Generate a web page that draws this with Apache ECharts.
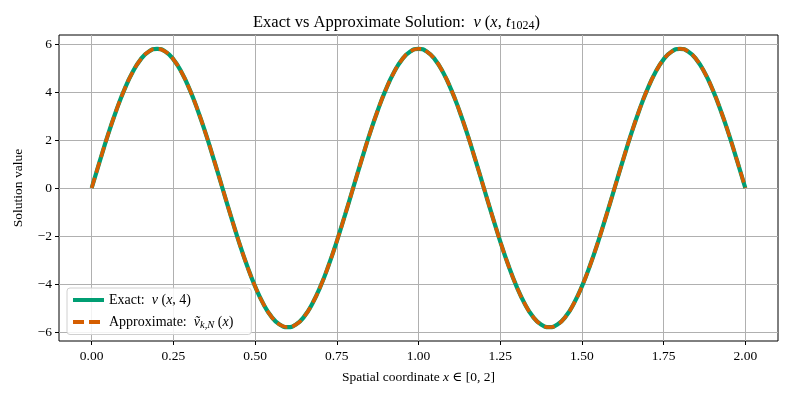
<!DOCTYPE html>
<html>
<head>
<meta charset="utf-8">
<script src="https://cdn.jsdelivr.net/npm/echarts@6/dist/echarts.min.js"></script>
<style>
html,body{margin:0;padding:0;background:#fff;}
#chart{width:793px;height:397px;}
</style>
</head>
<body>
<div id="chart"></div>
<script>
// x positions, step 0.025 on [0, 2]
var xs = [];
for (var i = 0; i <= 80; i++) xs.push(+(i * 0.025).toFixed(3));

// solution values (one wave = 32 samples)
var exactVals = [
  0, 1.13, 2.22, 3.22, 4.10, 4.82, 5.36, 5.69, 5.80, 5.69, 5.36, 4.82, 4.10, 3.22, 2.22, 1.13,
  0, -1.13, -2.22, -3.22, -4.10, -4.82, -5.36, -5.69, -5.80, -5.69, -5.36, -4.82, -4.10, -3.22, -2.22, -1.13,
  0, 1.13, 2.22, 3.22, 4.10, 4.82, 5.36, 5.69, 5.80, 5.69, 5.36, 4.82, 4.10, 3.22, 2.22, 1.13,
  0, -1.13, -2.22, -3.22, -4.10, -4.82, -5.36, -5.69, -5.80, -5.69, -5.36, -4.82, -4.10, -3.22, -2.22, -1.13,
  0, 1.13, 2.22, 3.22, 4.10, 4.82, 5.36, 5.69, 5.80, 5.69, 5.36, 4.82, 4.10, 3.22, 2.22, 1.13,
  0
];
var approxVals = exactVals.slice();

var xTicks = [0, 0.25, 0.5, 0.75, 1.0, 1.25, 1.5, 1.75, 2.0];
var yTicks = [-6, -4, -2, 0, 2, 4, 6];

var serif = '"Liberation Serif", "DejaVu Serif", serif';

function pairs(x, y) {
  var out = [];
  for (var i = 0; i < x.length; i++) out.push([x[i], y[i]]);
  return out;
}

var chart = echarts.init(document.getElementById('chart'));

var option = {
  backgroundColor: '#fff',
  animation: false,
  textStyle: { fontFamily: serif, color: '#000' },
  title: {
    text: 'Exact vs Approximate Solution:  {i|v} ({i|x}, {i|t}{sub|1024})',
    left: 'center',
    top: 8,
    textStyle: {
      fontFamily: serif,
      fontSize: 16.5,
      fontWeight: 'normal',
      color: '#000',
      rich: {
        i: { fontFamily: serif, fontStyle: 'italic', fontSize: 16.5, color: '#000' },
        sub: { fontFamily: serif, fontSize: 12, color: '#000', verticalAlign: 'bottom', padding: [7, 0, 0, 0] }
      }
    }
  },
  grid: {
    left: 59, right: 15, top: 35, bottom: 56,
    show: true, borderColor: '#000', borderWidth: 1, backgroundColor: 'transparent'
  },
  legend: {
    left: 67, top: 288, orient: 'vertical',
    itemWidth: 31, itemHeight: 14, itemGap: 8,
    padding: [5, 18, 4, 4],
    backgroundColor: 'rgba(255,255,255,0.85)',
    borderColor: '#d0d0d0', borderWidth: 1, borderRadius: 3,
    itemStyle: { opacity: 0 },
    data: [
      { name: 'exact', lineStyle: { width: 4 } },
      { name: 'approx', lineStyle: { width: 4 } }
    ],
    formatter: function (name) {
      if (name === 'exact') return 'Exact:  {i|v} ({i|x}, 4)';
      return 'Approximate:  {i|ṽ}{s|k,N} ({i|x})';
    },
    textStyle: {
      fontFamily: serif, fontSize: 14, color: '#000',
      rich: {
        i: { fontFamily: serif, fontStyle: 'italic', fontSize: 14, color: '#000' },
        s: { fontFamily: serif, fontStyle: 'italic', fontSize: 10.5, color: '#000', verticalAlign: 'bottom', padding: [6, 0, 0, 0] }
      }
    }
  },
  xAxis: {
    type: 'value', min: -0.1, max: 2.1,
    name: 'Spatial coordinate {i|x} ∈ [0, 2]',
    nameLocation: 'middle', nameGap: 29,
    nameTextStyle: {
      fontFamily: serif, fontSize: 13.5, color: '#000',
      rich: { i: { fontFamily: serif, fontStyle: 'italic', fontSize: 13.5, color: '#000' } }
    },
    axisLine: { show: false, onZero: false },
    axisTick: { show: true, inside: false, length: 4, customValues: xTicks, lineStyle: { color: '#000' } },
    axisLabel: {
      customValues: xTicks, margin: 8, fontFamily: serif, fontSize: 13.5, color: '#000',
      formatter: function (v) { return v.toFixed(2); }
    },
    splitLine: { show: true, lineStyle: { color: '#b0b0b0', width: 1 } }
  },
  yAxis: {
    type: 'value', min: -6.375, max: 6.375,
    name: 'Solution value',
    nameLocation: 'middle', nameGap: 34, nameRotate: 90,
    nameTextStyle: { fontFamily: serif, fontSize: 13.5, color: '#000' },
    axisLine: { show: false, onZero: false },
    axisTick: { show: true, inside: false, length: 4, customValues: yTicks, lineStyle: { color: '#000' } },
    axisLabel: {
      customValues: yTicks, margin: 7, fontFamily: serif, fontSize: 13.5, color: '#000',
      formatter: function (v) { return String(v).replace('-', '\u2212'); }
    },
    splitLine: { show: true, lineStyle: { color: '#b0b0b0', width: 1 } }
  },
  series: [
    {
      name: 'exact', type: 'line', data: pairs(xs, exactVals),
      smooth: true, symbol: 'none', showSymbol: false,
      lineStyle: { color: '#009E73', width: 4.2 },
      itemStyle: { color: '#009E73' },
      z: 2
    },
    {
      name: 'approx', type: 'line', data: pairs(xs, approxVals),
      smooth: true, symbol: 'none', showSymbol: false,
      lineStyle: { color: '#D55E00', width: 3.6, type: [11, 5] },
      itemStyle: { color: '#D55E00' },
      z: 3
    }
  ]
};

chart.setOption(option);
</script>
</body>
</html>
